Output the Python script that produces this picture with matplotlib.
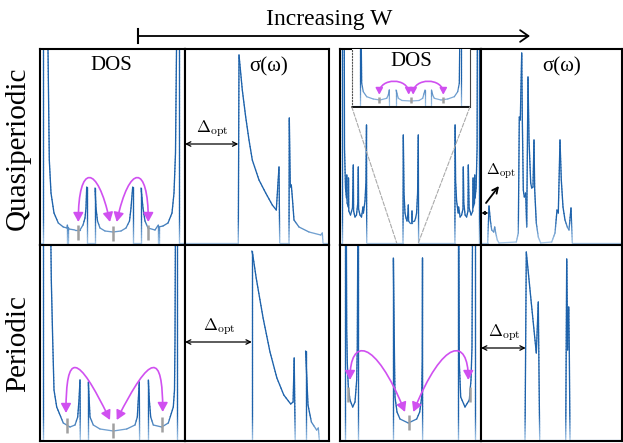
import numpy as np
import matplotlib.pyplot as plt
from matplotlib.collections import LineCollection
from matplotlib.colors import LinearSegmentedColormap
from matplotlib.patches import FancyArrowPatch, ConnectionPatch
from matplotlib.lines import Line2D
from matplotlib.path import Path

plt.rcParams['font.family'] = ['Liberation Serif', 'DejaVu Serif']
plt.rcParams['mathtext.fontset'] = 'cm'

# ---------------- data (energy / frequency and DOS / sigma, arbitrary units) ----------------
# quasiperiodic, small W : DOS
qp1_dos_E = [0, 3.3, 3.3, 7, 8, 9.3, 11, 14, 18.3, 23.3, 27, 27.3, 27.3, 27.6, 27.6, 29, 35, 40, 43, 45,
             46, 46.7, 46.7, 55, 55, 56, 57.5, 60, 65, 73, 81, 86, 89.5, 91, 92.7, 92.7, 101, 101, 103, 105,
             108, 115, 118.3, 118.3, 118.6, 118.6, 123, 128, 132, 134, 135.5, 136.5, 137, 139, 139, 145]
qp1_dos_G = [0, 0, 230, 230, 193, 83, 50, 30, 20, 16, 15, 18, 0, 0, 16, 14, 13, 13, 18, 25,
             35, 56, 0, 0, 55, 35, 22, 15, 12, 11, 12, 15, 22, 35, 56, 0, 0, 55, 35, 22,
             15, 13, 18, 0, 0, 16, 17, 20, 30, 50, 90, 193, 230, 230, 0, 0]
qp1_ticks = [38.3, 73.3, 108.3]
qp1_tick_lo = [3, 2, 3]
qp1_tick_hi = [18, 17, 18]

# quasiperiodic, small W : optical conductivity
qp1_sig_w = [0, 53.3, 54, 57.3, 60.7, 64, 67.3, 74, 80.7, 87.3, 91.3, 94, 94.7, 104, 104.3, 105.3,
             106.3, 107.3, 109, 114, 124, 135.7, 137.3, 138, 144]
qp1_sig_s = [0, 0, 188, 153, 126, 103, 83, 63, 50, 38, 33, 76, 0, 0, 125, 56,
             58, 46, 23, 16, 11, 8, 10, 0, 0]
qp1_gap = 53.3

# quasiperiodic, large W : DOS (full spectrum)
qp2_dos_E = [0, 2.3, 2.3, 4.2, 4.5, 5.5, 6.5, 6.8, 7.1, 8.3, 8.5, 8.8, 10.5, 12.5, 13.3, 13.6, 15, 16.5,
             17.8, 18.3, 18.6, 20, 21.5, 23, 23.4, 25, 26, 26.5, 26.7,
             63, 63.3, 64, 65, 66, 67, 68, 68.3, 68.6, 70, 71.7, 72, 72.3, 74.6, 75.6, 76.6, 77.6, 78.3, 78.6,
             114.9, 115.1, 115.6, 116.6, 118.2, 118.6, 120.1, 121.6, 123, 123.3, 123.8, 125.1, 126.6, 128,
             128.3, 129.1, 131.1, 132.8, 133.1, 133.3, 134.5, 134.8, 135.1, 136.1, 137.1, 137.4, 139.3,
             139.3, 142]
qp2_dos_G = [0, 0, 230, 230, 95, 55, 45, 68, 40, 36, 65, 32, 28, 35, 78, 32, 26, 28,
             40, 76, 34, 28, 26, 36, 30, 42, 62, 118, 0,
             0, 108, 50, 30, 25, 22, 30, 38, 22, 20, 20, 32, 21, 22, 25, 30, 50, 108, 0,
             0, 118, 62, 42, 30, 36, 26, 28, 34, 76, 40, 28, 26, 32,
             78, 35, 28, 32, 65, 36, 40, 68, 45, 55, 95, 230, 230,
             0, 0]
qp2_zoom_lo, qp2_zoom_hi = 56.7, 78.3

# quasiperiodic, large W : DOS inset (zoom of the central region)
qp2_in_E = [0, 8.3, 8.3, 9.5, 10, 11.6, 15, 21.6, 28.3, 35, 36.6, 37.6, 37.8, 44.3, 44.3, 46.6, 50.3,
            59.3, 67.3, 71, 73.3, 73.3, 79.8, 79.8, 81, 82.6, 89.3, 96, 102.6, 106, 107.6, 108.1,
            109.3, 109.3, 118.3]
qp2_in_G = [0, 0, 70, 70, 22.4, 14, 9, 6.7, 5.7, 7.4, 10.7, 15.7, 0, 0, 15.7, 7.4, 5.2,
            4.7, 5.2, 7.4, 15.7, 0, 0, 15.7, 10.7, 7.4, 5.7, 6.7, 9, 14, 22.4, 70,
            70, 0, 0]
qp2_in_ticks = [27.6, 59.3, 91.6]

# quasiperiodic, large W : optical conductivity
qp2_sig_w = [0, 6.7, 8, 9.3, 10.7, 12.7, 13.7, 14.7, 16.3, 18, 35.3, 37.3, 38.3, 39.3, 40.7, 41.3,
             42.3, 43.3, 44.7, 45.7, 47, 48, 49.7, 50.7, 52, 53, 53.7, 55.3, 57.3, 59.7, 70.7, 74,
             76, 77.3, 79, 80.3, 82, 84, 86.3, 88, 90, 90.7, 91.3, 141]
qp2_sig_s = [0, 0, 37, 23, 13, 11, 16, 10, 3, 0, 1, 10, 126, 123, 190, 126,
             53, 46, 50, 16, 166, 103, 60, 55, 56, 103, 53, 20, 6, 0, 1, 10,
             33, 30, 103, 63, 36, 23, 16, 13, 35, 16, 0, 0]
qp2_gap = 7.3

# periodic, small W : DOS
p1_dos_E = [0, 3.3, 3.3, 10.5, 11.3, 12.7, 14, 16.7, 23.3, 30, 35, 37.7, 39, 40, 40.3, 48.3, 48.3, 50,
            53.3, 60, 73.3, 86.7, 95, 97.3, 99.3, 99.6, 108.3, 108.3, 109.3, 110.7, 113.3, 121.7, 128.3,
            133.3, 134.5, 135, 135.5, 136.7, 136.7, 145]
p1_dos_G = [0, 0, 230, 230, 160, 100, 50, 33, 17, 13, 15, 23, 40, 60, 0, 0, 58, 23,
            15, 11, 9, 11, 15, 23, 58, 0, 0, 60, 40, 23, 15, 13, 17,
            33, 50, 100, 230, 230, 0, 0]
p1_ticks = [26.7, 73.3, 121.7]
p1_tick_lo = [7, 2, 8]
p1_tick_hi = [22, 17, 23]

# periodic, small W : optical conductivity
p1_sig_w = [0, 66.8, 66.8, 67.8, 71.2, 78.1, 85, 91.9, 98.8, 105.7, 108.1, 109.2, 110.2, 120.6, 120.6,
            123, 126.4, 131.6, 133.3, 134.3, 144]
p1_sig_s = [0, 0, 189, 185, 162, 122, 88, 62, 45, 36, 38, 82, 0, 0, 89, 35, 18, 10, 12, 0, 0]
p1_gap = 66.8

# periodic, large W : DOS
p2_dos_E = [0, 5, 5, 6.3, 6.7, 7.3, 8.3, 10, 12.7, 15, 16.7, 17.3, 17.9, 18.3, 18.3, 53.3, 53.3, 54.5,
            55, 57, 60, 68.3, 76.7, 79.7, 81.7, 82.3, 82.5, 82.6, 118.3, 118.3, 118.8, 119.3, 120.7, 125,
            129.3, 131, 132, 132.6, 135, 135, 142]
p2_dos_G = [0, 0, 230, 230, 110, 77, 53, 40, 33, 38, 60, 93, 230, 230, 0, 0, 182, 80,
            43, 28, 21, 17, 21, 28, 43, 80, 182, 0, 0, 230, 230, 77, 43, 33,
            40, 60, 93, 230, 230, 0, 0]
p2_ticks = [8.3, 69, 130]
p2_tick_lo = [38, 10, 38]
p2_tick_hi = [53, 25, 53]

# periodic, large W : optical conductivity
p2_sig_w = [0, 44, 45.3, 50.3, 55.3, 57.3, 58, 58.7, 84.7, 85.7, 86.7, 87.7, 88.3, 89, 141]
p2_sig_s = [0, 0, 188, 137, 87, 138, 67, 0, 0, 181, 90, 133, 90, 0, 0]
p2_gap = 44.7

# ---------------- figure ----------------
W, H = 623, 443
fig = plt.figure(figsize=(W / 100, H / 100), dpi=100)
cmap = LinearSegmentedColormap.from_list('dos', ['#a9c9e8', '#1d62ab'])
MAG = '#d050f0'


def panel(x0, y0, x1, y1, base=2):
    ax = fig.add_axes([x0 / W, 1 - y1 / H, (x1 - x0) / W, (y1 - y0) / H])
    ax.set_xlim(0, x1 - x0)
    ax.set_ylim(-base, (y1 - y0) - base)
    ax.set_xticks([])
    ax.set_yticks([])
    for s in ax.spines.values():
        s.set_linewidth(1.5)
    return ax


def curve(ax, x, y, lw=0.95):
    # split into short pieces so the colour can fade towards the baseline
    segs, vals = [], []
    for i in range(len(x) - 1):
        n = max(1, int(abs(y[i + 1] - y[i]) // 3))
        xs = np.linspace(x[i], x[i + 1], n + 1)
        ys = np.linspace(y[i], y[i + 1], n + 1)
        for j in range(n):
            segs.append([(xs[j], ys[j]), (xs[j + 1], ys[j + 1])])
            vals.append(np.clip((ys[j] + ys[j + 1]) / 2 / 25, 0, 1))
    ax.add_collection(LineCollection(segs, colors=cmap(vals), lw=lw, capstyle='round'))


def ticks(ax, xs, lo, hi):
    ax.vlines(xs, lo, hi, color='#a0a0a0', lw=1.8, zorder=3)


def arc(ax, p_out, p_in, top, f, scale=10):
    h = (8 * top - p_out[1] - p_in[1]) / 6
    verts = [p_out, (p_out[0], h), (p_out[0] + f * (p_in[0] - p_out[0]), h), p_in]
    pth = Path(verts, [Path.MOVETO, Path.CURVE4, Path.CURVE4, Path.CURVE4])
    ax.add_patch(FancyArrowPatch(path=pth, arrowstyle='<|-|>,head_length=0.55,head_width=0.3',
                                 mutation_scale=scale, color=MAG, lw=1.2, zorder=4))


def gap_arrow(ax, x1, y, label, fs=12):
    ax.annotate('', xy=(x1, y), xytext=(0, y),
                arrowprops=dict(arrowstyle='<->', lw=0.9, color='black', shrinkA=0, shrinkB=0,
                                mutation_scale=8))
    ax.text(x1 / 2 + 1, y + 5, label, ha='center', va='bottom', fontsize=fs)


lab = r'$\Delta_{\rm opt}$'

# top row: quasiperiodic
ax = panel(40, 49, 185, 245)
curve(ax, qp1_dos_E, qp1_dos_G)
ticks(ax, qp1_ticks, qp1_tick_lo, qp1_tick_hi)
arc(ax, (qp1_ticks[0], 21), (70, 21), 65, 0.6)
arc(ax, (qp1_ticks[2], 21), (76.7, 21), 65, 0.6)
ax.text(71, 177, 'DOS', ha='center', va='center', fontsize=15)

ax = panel(185, 49, 329, 245)
curve(ax, qp1_sig_w, qp1_sig_s)
gap_arrow(ax, qp1_gap, 99, lab)
ax.text(84, 176, 'σ(ω)', ha='center', va='center', fontsize=15)

ax = panel(340, 49, 481, 245)
curve(ax, qp2_dos_E, qp2_dos_G)
axi = fig.add_axes([351.7 / W, 1 - 106.7 / H, (470 - 351.7) / W, (106.7 - 49) / H])
axi.set_xlim(0, 118.3)
axi.set_ylim(-1, 56.7)
axi.set_xticks([])
axi.set_yticks([])
axi.spines['top'].set_visible(False)
axi.spines['left'].set_linestyle(':')
axi.spines['left'].set_color('#555555')
axi.spines['right'].set_color('#444444')
axi.spines['bottom'].set_linewidth(1.3)
curve(axi, qp2_in_E, qp2_in_G, lw=0.9)
ticks(axi, qp2_in_ticks, 2.4, 9)
arc(axi, (qp2_in_ticks[0], 11), (57, 11), 24, 1.0, scale=7)
arc(axi, (qp2_in_ticks[2], 11), (61.5, 11), 24, 1.0, scale=7)
axi.text(59.3, 44, 'DOS', ha='center', va='center', fontsize=15)
for xa, xb in [(0, qp2_zoom_lo), (1, qp2_zoom_hi)]:
    fig.add_artist(ConnectionPatch(xyA=(xa, 0), coordsA=axi.transAxes, xyB=(xb, 0), coordsB=ax.transData,
                                   color='#aaaaaa', lw=0.8, ls='--'))

ax = panel(481, 49, 622, 245)
curve(ax, qp2_sig_w, qp2_sig_s)
ax.annotate('', xy=(qp2_gap, 30), xytext=(0.5, 30),
            arrowprops=dict(arrowstyle='<->', lw=0.8, color='black', shrinkA=0, shrinkB=0, mutation_scale=5))
ax.annotate('', xy=(18, 57), xytext=(5, 40),
            arrowprops=dict(arrowstyle='->', lw=1.3, color='black', shrinkA=0, shrinkB=0, mutation_scale=10))
ax.text(20, 62, lab, ha='center', va='bottom', fontsize=11)
ax.text(81, 176, 'σ(ω)', ha='center', va='center', fontsize=15)

# bottom row: periodic
ax = panel(40, 245, 185, 441, base=1)
curve(ax, p1_dos_E, p1_dos_G)
ticks(ax, p1_ticks, p1_tick_lo, p1_tick_hi)
arc(ax, (26, 27), (70, 20), 72, 0.25)
arc(ax, (122.7, 28), (76.7, 20), 72, 0.25)

ax = panel(185, 245, 329, 441, base=1)
curve(ax, p1_sig_w, p1_sig_s)
gap_arrow(ax, p1_gap, 98, lab)

ax = panel(340, 245, 481, 441, base=1)
curve(ax, p2_dos_E, p2_dos_G)
ticks(ax, p2_ticks, p2_tick_lo, p2_tick_hi)
arc(ax, (10, 60), (65, 28), 88, 0.45)
arc(ax, (128.3, 60), (73.3, 28), 88, 0.45)

ax = panel(481, 245, 622, 441, base=1)
curve(ax, p2_sig_w, p2_sig_s)
gap_arrow(ax, p2_gap, 92, lab)

# row labels and the W arrow
fig.text(18 / W, 1 - 148 / H, 'Quasiperiodic', rotation=90, ha='center', va='center', fontsize=21)
fig.text(18 / W, 1 - 343 / H, 'Periodic', rotation=90, ha='center', va='center', fontsize=21)
fig.text(329 / W, 1 - 20 / H, 'Increasing W', ha='center', va='center', fontsize=17)
fig.add_artist(FancyArrowPatch((138 / W, 1 - 36 / H), (530 / W, 1 - 36 / H), transform=fig.transFigure,
                               arrowstyle='->,head_length=0.5,head_width=0.35',
                               mutation_scale=12, lw=1.3, color='black', shrinkA=0, shrinkB=0))
fig.add_artist(Line2D([138 / W, 138 / W], [1 - 29 / H, 1 - 43 / H], transform=fig.transFigure,
                      color='black', lw=1.5))

fig.savefig('out.png', dpi=100)
